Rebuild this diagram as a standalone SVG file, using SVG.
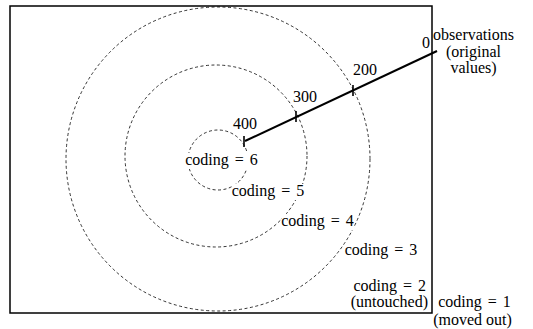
<svg xmlns="http://www.w3.org/2000/svg" width="533" height="329" viewBox="0 0 533 329">
<style>
.t{font-family:"Liberation Serif","Times New Roman",serif;font-size:16px;fill:#000}
.w{word-spacing:2px}
.bg{fill:#fff}
.ring{fill:none;stroke:#000;stroke-width:0.8;stroke-dasharray:3 2.5}
.tick{stroke:#000;stroke-width:1.6}
</style>
<rect width="533" height="329" fill="#fff"/>
<g id="frame"><rect x="10" y="6" width="422" height="307" fill="none" stroke="#000" stroke-width="1.5"/></g>
<g id="rings">
<circle class="ring" cx="218" cy="160" r="30"/>
<circle class="ring" cx="216" cy="156" r="91"/>
<circle class="ring" cx="218" cy="159" r="152"/>
</g>
<g id="connectors">
<line x1="245" y1="141" x2="437" y2="51" stroke="#000" stroke-width="2"/>
<line class="tick" x1="244" y1="136" x2="244" y2="147"/>
<line class="tick" x1="296" y1="111" x2="296" y2="122"/>
<line class="tick" x1="353" y1="85" x2="353" y2="96"/>
</g>
<g id="labels">
<text class="t" x="430" y="48" text-anchor="end">0</text>
<text class="t" x="473.5" y="40" text-anchor="middle">observations</text>
<text class="t" x="473.5" y="57" text-anchor="middle">(original</text>
<text class="t" x="473.5" y="73" text-anchor="middle">values)</text>
<text class="t" x="353" y="75">200</text>
<text class="t" x="293" y="102">300</text>
<text class="t" x="233" y="129">400</text>
<g id="c6"><rect class="bg" x="186" y="153" width="72" height="16"/><text class="t w" x="221.5" y="165" text-anchor="middle">coding = 6</text></g>
<g id="c5"><rect class="bg" x="232" y="184" width="72" height="16"/><text class="t w" x="268" y="196" text-anchor="middle">coding = 5</text></g>
<g id="c4"><rect class="bg" x="282" y="214" width="72" height="16"/><text class="t w" x="317.5" y="226" text-anchor="middle">coding = 4</text></g>
<g id="c3"><rect class="bg" x="345" y="243" width="72" height="16"/><text class="t w" x="381" y="255" text-anchor="middle">coding = 3</text></g>
<text class="t w" x="426" y="291" text-anchor="end">coding = 2</text>
<text class="t" x="428" y="307" text-anchor="end">(untouched)</text>
<text class="t w" x="474.5" y="307" text-anchor="middle">coding = 1</text>
<text class="t" x="472.5" y="325" text-anchor="middle">(moved out)</text>
</g>
</svg>
